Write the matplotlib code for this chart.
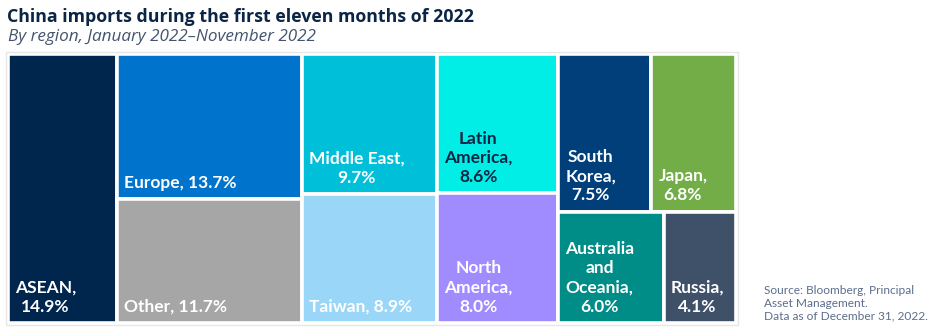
import matplotlib
matplotlib.use("Agg")
import matplotlib.pyplot as plt
from matplotlib.patches import Rectangle

# ---- data ----
regions = ["ASEAN", "Europe", "Other", "Middle East", "Taiwan", "Latin America",
           "North America", "South Korea", "Japan", "Australia and Oceania", "Russia"]
shares = [14.9, 13.7, 11.7, 9.7, 8.9, 8.6, 8.0, 7.5, 6.8, 6.0, 4.1]
labels = ["ASEAN,\n14.9%", "Europe, 13.7%", "Other, 11.7%", "Middle East,\n9.7%",
          "Taiwan, 8.9%", "Latin\nAmerica,\n8.6%", "North\nAmerica,\n8.0%",
          "South\nKorea,\n7.5%", "Japan,\n6.8%", "Australia\nand\nOceania,\n6.0%",
          "Russia,\n4.1%"]
colors = ["#00264D", "#0074CC", "#A6A6A6", "#00BFD9", "#99D6F7", "#00EEE6",
          "#A08CFF", "#003F7A", "#72AD48", "#008C87", "#3F5069"]
text_colors = ["white"] * 5 + ["#0B2545"] + ["white"] * 5
# nested slice structure (columns, then rows, then items)
structure = [[0], [1, 2], [3, 4], [5, 6], [[7, 8], [9, 10]]]

title = "China imports during the first eleven months of 2022"
subtitle = "By region, January 2022\u2013November 2022"
source = "Source: Bloomberg, Principal\nAsset Management.\nData as of December 31, 2022."

plt.rcParams['font.family'] = ['Lato', 'DejaVu Sans']

W, H = 936, 333
fig = plt.figure(figsize=(W / 100, H / 100), dpi=100)
fig.patch.set_facecolor("white")

x0p, x1p, y0p, y1p = 8, 736, 54, 323
ax = fig.add_axes([x0p / W, 1 - y1p / H, (x1p - x0p) / W, (y1p - y0p) / H])
ax.set_xlim(0, 1)
ax.set_ylim(1, 0)  # y grows downward
ax.axis("off")


def node_sum(node):
    if isinstance(node, list):
        return sum(node_sum(n) for n in node)
    return shares[node]


rects = {}


def layout(node, x, y, w, h, horizontal):
    if not isinstance(node, list):
        rects[node] = (x, y, w, h)
        return
    total = node_sum(node)
    pos = 0.0
    for child in node:
        frac = node_sum(child) / total
        if horizontal:
            layout(child, x + pos * w, y, frac * w, h, not horizontal)
        else:
            layout(child, x, y + pos * h, w, frac * h, not horizontal)
        pos += frac


layout(structure, 0, 0, 1, 1, True)

for i in range(len(shares)):
    x, y, w, h = rects[i]
    ax.add_patch(Rectangle((x, y), w, h, facecolor=colors[i], edgecolor="white",
                           linewidth=2.6))
    ax.annotate(labels[i], xy=(x, y + h), xytext=(5, 6), textcoords="offset points",
                ha="left", va="bottom", multialignment="center",
                color=text_colors[i], fontsize=12.5, fontweight="bold",
                linespacing=1.24)

# faint frame around chart
fig.patches.append(Rectangle((6 / W, 1 - 325 / H), 732 / W, 273 / H,
                             transform=fig.transFigure, fill=False,
                             edgecolor="#E6E6E6", linewidth=1, zorder=-1))

fig.text(7 / W, 1 - 22 / H, title, ha="left", va="baseline", fontsize=12.8,
         fontweight="bold", color="#0B2545", family=["Open Sans", "DejaVu Sans"])
fig.text(8 / W, 1 - 41 / H, subtitle, ha="left", va="baseline", fontsize=12.3,
         style="italic", color="#44546E", family=["Open Sans", "DejaVu Sans"])
fig.text(764 / W, 1 - 319 / H, source, ha="left", va="baseline", fontsize=8.6,
         color="#5B6E8C", linespacing=1.15)

fig.savefig("out.png", dpi=100, facecolor="white")
